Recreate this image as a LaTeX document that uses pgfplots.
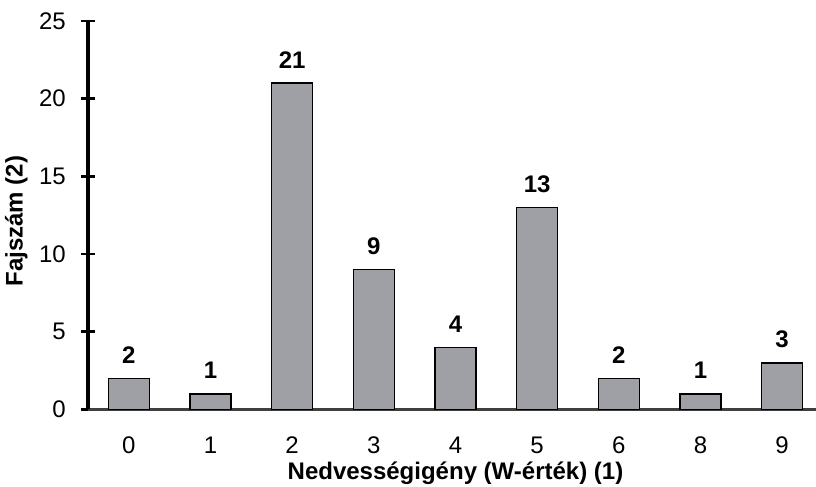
\documentclass[border=0pt]{standalone}
\usepackage{fontspec}
\setmainfont{Liberation Sans}
\usepackage{pgfplots}
\pgfplotsset{compat=1.18}
\definecolor{barfill}{RGB}{158,160,165}
\definecolor{xaxiscol}{RGB}{64,64,64}
\begin{document}
\fontsize{18}{21.6}\selectfont
\begin{tikzpicture}
\begin{axis}[
  at={(66pt,57.4pt)}, anchor=south west,
  width=551.25pt, height=291.4pt, scale only axis,
  xmin=-0.5, xmax=8.5, ymin=0, ymax=25,
  axis x line=bottom, axis y line=left,
  x axis line style={draw=xaxiscol, line width=2.25pt, -},
  y axis line style={draw=black, line width=2.5pt, -},
  xtick={0,...,8}, xticklabels={0,1,2,3,4,5,6,8,9},
  ytick={0,5,...,25},
  /pgf/number format/assume math mode=true,
  tick align=center,
  major x tick style={draw=none},
  major y tick style={draw=black, line width=2pt},
  major tick length=10.5pt,
  xticklabel style={anchor=base, inner sep=0pt, yshift=-22.5pt},
  yticklabel style={anchor=east, inner sep=0pt, xshift=-11.25pt},
  tick label style={font=\fontsize{18}{21.6}\selectfont},
  xlabel={Nedvességigény (W-érték) (1)},
  ylabel={Fajszám (2)},
  xlabel style={at={(axis description cs:0.5,0)}, anchor=base, inner sep=0pt, yshift=-52.5pt, font=\fontsize{18}{21.6}\selectfont\bfseries},
  ylabel style={at={(axis description cs:-0.089,0.485)}, anchor=base, inner sep=0pt, font=\fontsize{18}{21.6}\selectfont\bfseries},
  ybar, bar width=30.75pt,
  nodes near coords,
  every node near coord/.append style={anchor=base, inner sep=0pt, yshift=11.25pt, font=\fontsize{18}{21.6}\selectfont\bfseries},
  clip=false,
]
\addplot[fill=barfill, draw=black, line width=1.1pt] coordinates {
  (0,2) (1,1) (2,21) (3,9) (4,4) (5,13) (6,2) (7,1) (8,3)
};
\end{axis}
\pgfresetboundingbox
\path[use as bounding box] (0,0) rectangle (612pt,364.5pt);
\end{tikzpicture}
\end{document}
